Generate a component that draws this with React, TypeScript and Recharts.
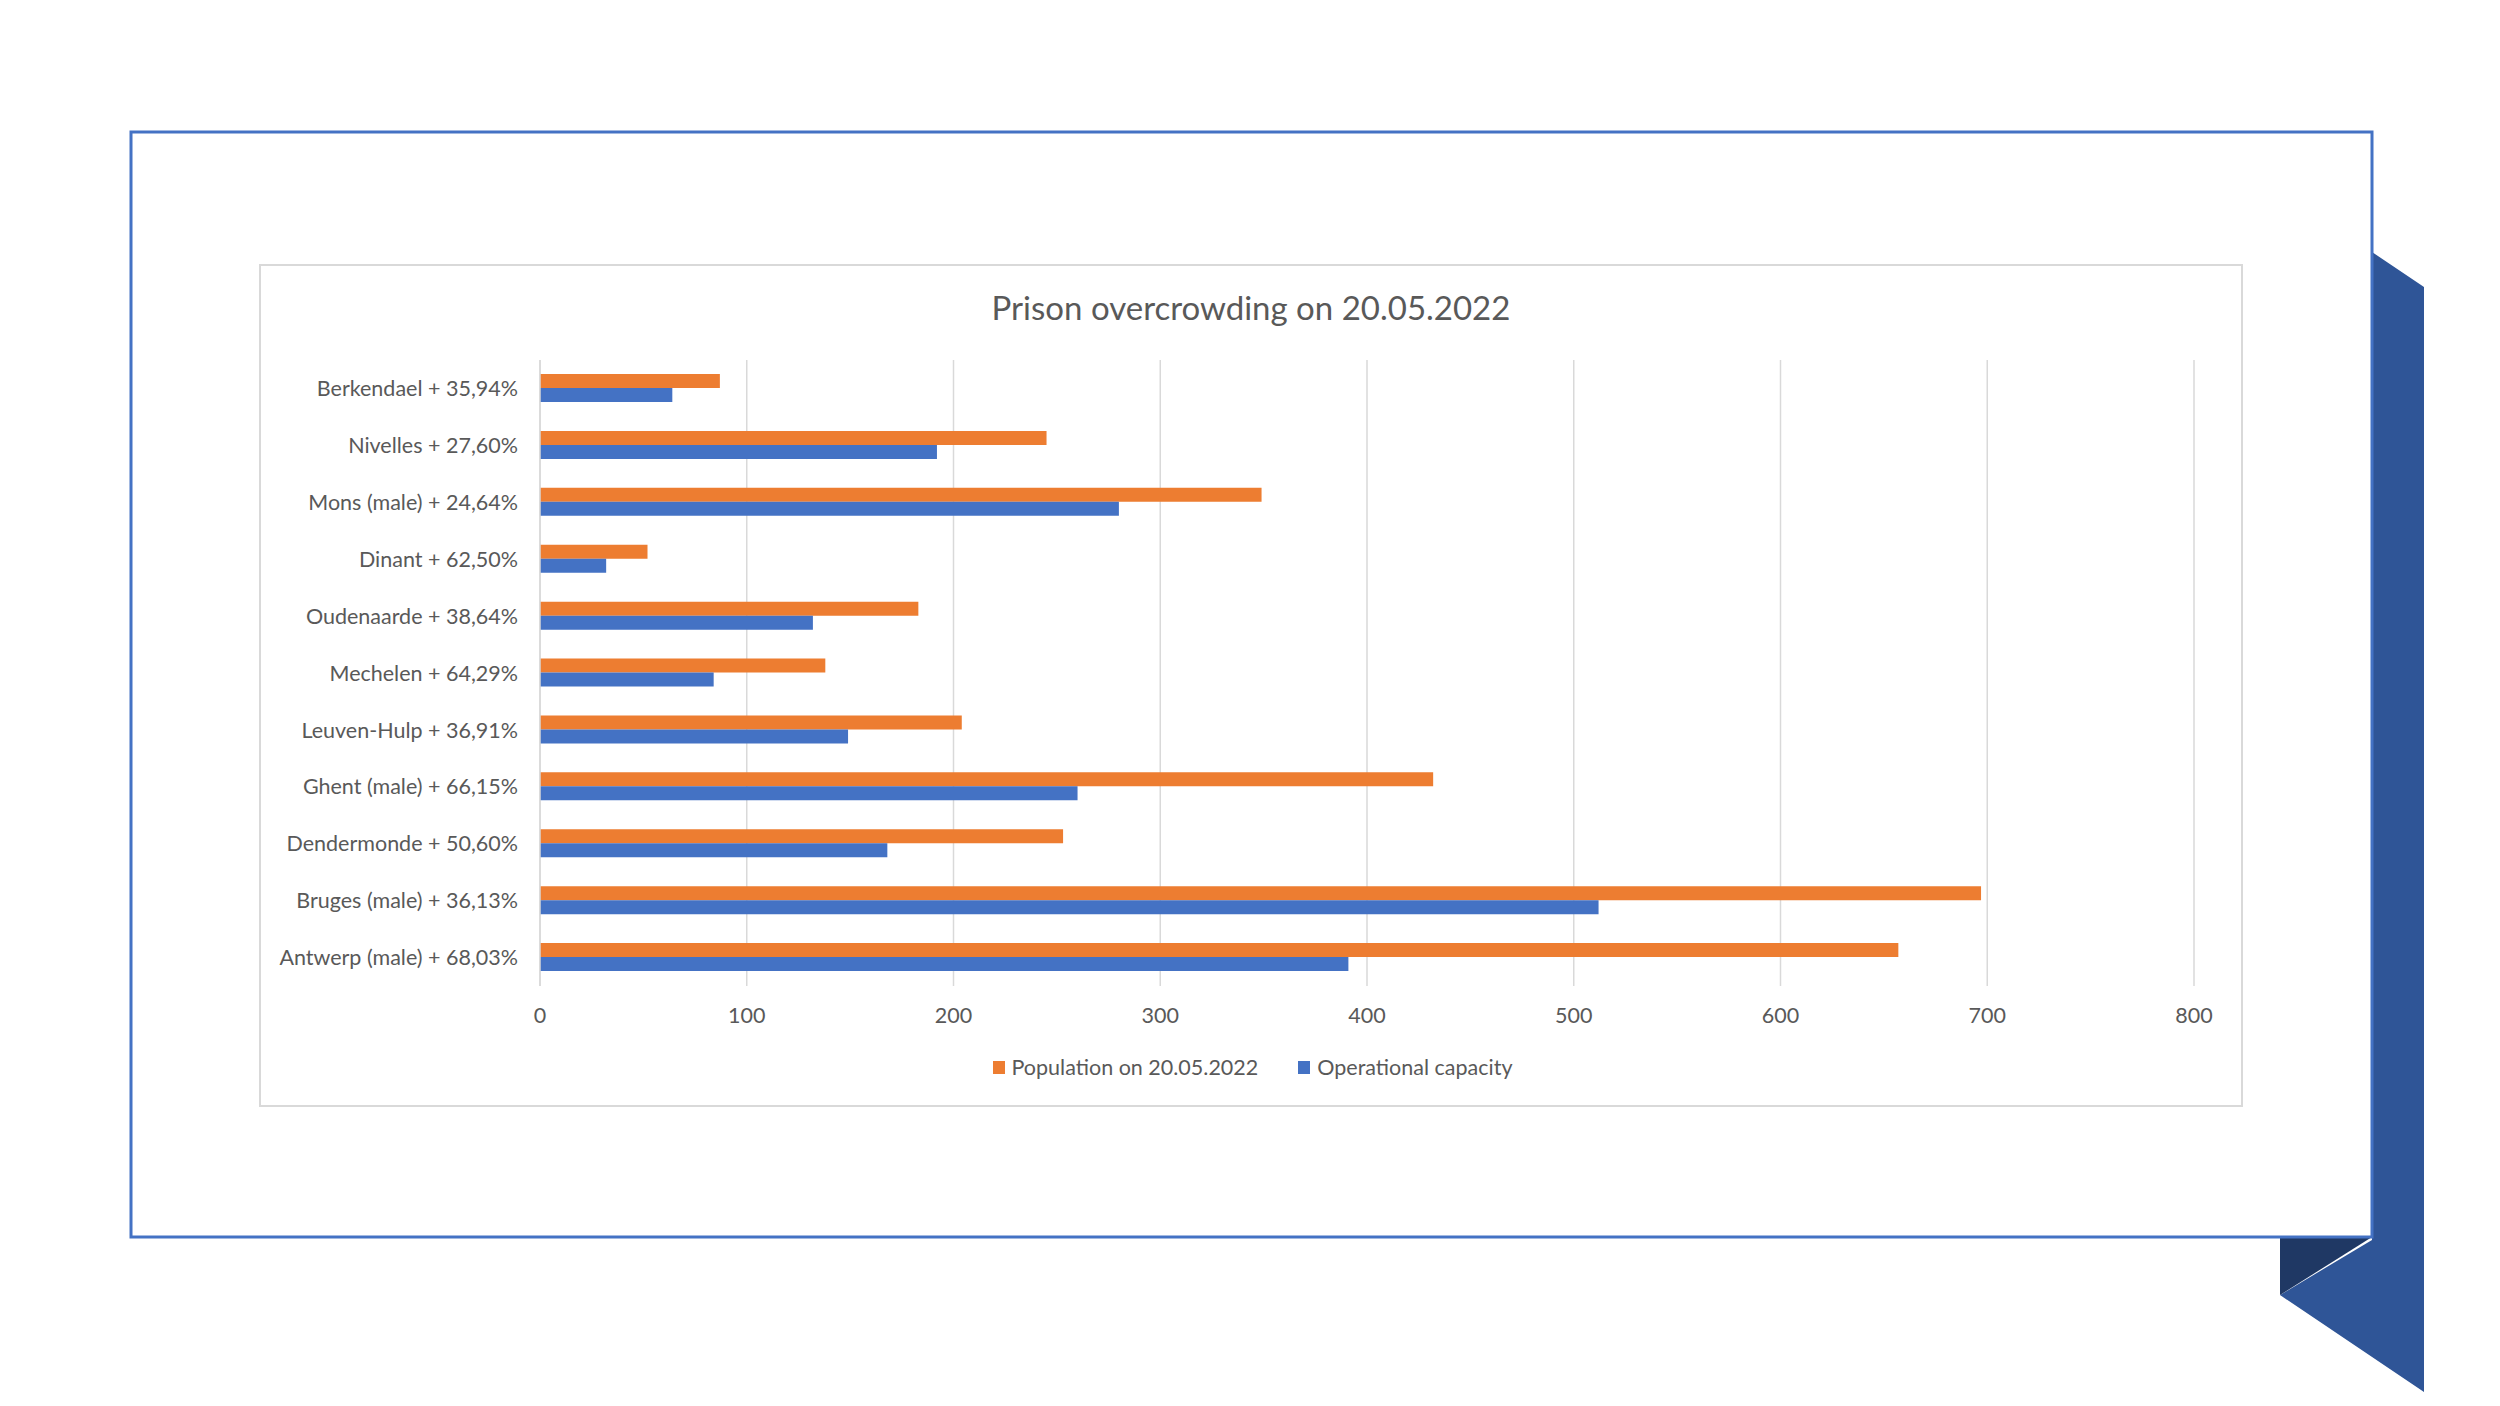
import { BarChart, Bar, XAxis, YAxis, CartesianGrid, Legend } from "recharts";

const prisons = [
  "Berkendael + 35,94%",
  "Nivelles + 27,60%",
  "Mons (male) + 24,64%",
  "Dinant + 62,50%",
  "Oudenaarde + 38,64%",
  "Mechelen + 64,29%",
  "Leuven-Hulp + 36,91%",
  "Ghent (male) + 66,15%",
  "Dendermonde + 50,60%",
  "Bruges (male) + 36,13%",
  "Antwerp (male) + 68,03%",
];
const population = [87, 245, 349, 52, 183, 138, 204, 432, 253, 697, 657];
const capacity = [64, 192, 280, 32, 132, 84, 149, 260, 168, 512, 391];
const xTicks = [0, 100, 200, 300, 400, 500, 600, 700, 800];
const legendOrder = ["Population on 20.05.2022", "Operational capacity"];

const chartData = prisons.map((name, i) => ({
  name,
  population: population[i],
  capacity: capacity[i],
}));

const FONT = "Lato, 'Open Sans', sans-serif";
const TEXT = "#595959";
const GRID = "#D9D9D9";

function LegendBox({ payload }: any) {
  const items = [...(payload || [])].sort(
    (a: any, b: any) => legendOrder.indexOf(a.value) - legendOrder.indexOf(b.value)
  );
  return (
    <div
      style={{
        display: "flex",
        justifyContent: "center",
        gap: 40,
        marginLeft: 50,
        fontFamily: FONT,
        fontSize: 21.5,
        color: TEXT,
      }}
    >
      {items.map((p: any) => (
        <div key={p.value} style={{ display: "flex", alignItems: "center" }}>
          <span style={{ width: 12, height: 13, background: p.color, marginRight: 7, display: "inline-block" }} />
          {p.value}
        </div>
      ))}
    </div>
  );
}

export default function App() {
  return (
    <div style={{ position: "absolute", left: 0, top: 0, width: 2500, height: 1406, background: "#fff", overflow: "hidden" }}>
      <svg width={2500} height={1406} style={{ position: "absolute", left: 0, top: 0 }}>
        <polygon points="2372,252 2424,287 2424,1392 2280,1295 2372,1240" fill="#2F5597" />
        <polygon points="2280,1237 2372,1237 2280,1295" fill="#1F3864" />
        <rect x={131} y={132} width={2241} height={1105} fill="#fff" stroke="#4472C4" strokeWidth={3} />
      </svg>
      <div
        style={{
          position: "absolute",
          left: 259,
          top: 264,
          width: 1980,
          height: 839,
          border: `2px solid ${GRID}`,
          background: "#fff",
        }}
      >
        <div
          style={{
            position: "absolute",
            left: 0,
            right: 0,
            top: 21,
            textAlign: "center",
            fontFamily: FONT,
            fontSize: 33,
            color: TEXT,
          }}
        >
          Prison overcrowding on 20.05.2022
        </div>
        <BarChart
          width={1980}
          height={839}
          data={chartData}
          layout="vertical"
          margin={{ top: 94, right: 47, bottom: 41, left: 0 }}
          barGap={0}
          barSize={14}
        >
          <CartesianGrid horizontal={false} stroke={GRID} strokeWidth={1.5} />
          <XAxis
            type="number"
            domain={[0, 800]}
            ticks={xTicks}
            axisLine={false}
            tickLine={false}
            tickMargin={16}
            height={52}
            tick={{ fill: TEXT, fontSize: 21.5, fontFamily: FONT }}
          />
          <YAxis
            type="category"
            dataKey="name"
            width={279}
            axisLine={{ stroke: GRID, strokeWidth: 1.5 }}
            tickLine={false}
            tickMargin={16}
            interval={0}
            tick={{ fill: TEXT, fontSize: 21.5, fontFamily: FONT }}
          />
          <Legend
            verticalAlign="bottom"
            content={<LegendBox />}
            wrapperStyle={{ bottom: 25 }}
          />
          <Bar dataKey="population" name="Population on 20.05.2022" fill="#ED7D31" isAnimationActive={false} />
          <Bar dataKey="capacity" name="Operational capacity" fill="#4472C4" isAnimationActive={false} />
        </BarChart>
      </div>
    </div>
  );
}
